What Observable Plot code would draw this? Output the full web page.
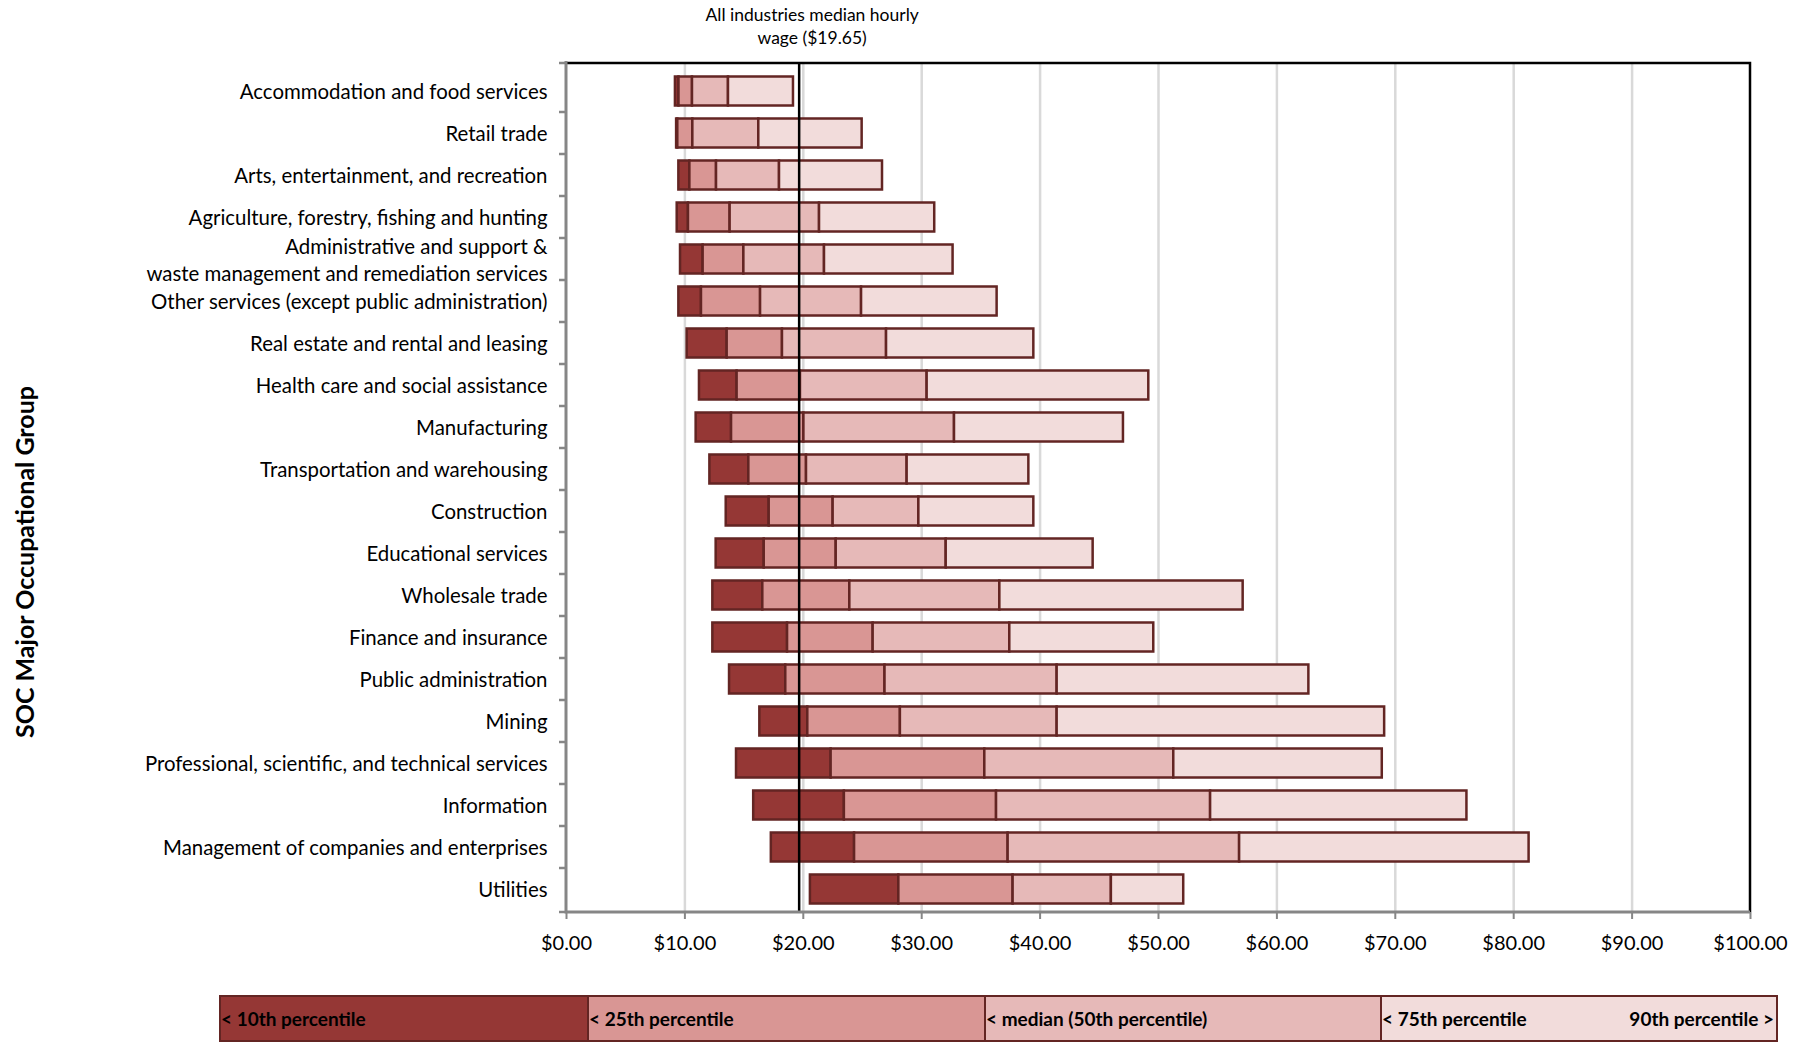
<!DOCTYPE html>
<html><head><meta charset="utf-8">
<script src="https://cdn.jsdelivr.net/npm/d3@7"></script>
<script src="https://cdn.jsdelivr.net/npm/@observablehq/plot@0.6"></script>
<style>
body{margin:0;background:#fff;font-family:Lato,"Open Sans",sans-serif;}
#wrap{position:relative;width:1808px;height:1044px;overflow:hidden;background:#fff;}
#chart{position:absolute;left:0;top:0;}
#legend{position:absolute;left:219px;top:995px;width:1559px;height:47px;display:flex;box-sizing:border-box;border:2px solid #632523;}
.cell{box-sizing:border-box;height:100%;display:flex;align-items:center;justify-content:space-between;font-weight:bold;font-size:19px;color:#000;padding:0 2px 0 0;white-space:nowrap;}
</style></head><body>
<div id="wrap"><div id="chart"></div><div id="legend"></div></div>
<script>
const industries = [
  "Accommodation and food services",
  "Retail trade",
  "Arts, entertainment, and recreation",
  "Agriculture, forestry, fishing and hunting",
  "Administrative and support &\nwaste management and remediation services",
  "Other services (except public administration)",
  "Real estate and rental and leasing",
  "Health care and social assistance",
  "Manufacturing",
  "Transportation and warehousing",
  "Construction",
  "Educational services",
  "Wholesale trade",
  "Finance and insurance",
  "Public administration",
  "Mining",
  "Professional, scientific, and technical services",
  "Information",
  "Management of companies and enterprises",
  "Utilities"
];
const p10 = [9.2, 9.3, 9.49, 9.35, 9.63, 9.49, 10.19, 11.23, 10.95, 12.11, 13.49, 12.64, 12.36, 12.36, 13.77, 16.33, 14.36, 15.81, 17.3, 20.6];
const p25 = [9.5, 9.4, 10.42, 10.3, 11.54, 11.4, 13.57, 14.41, 13.94, 15.4, 17.12, 16.7, 16.58, 18.67, 18.52, 20.38, 22.35, 23.47, 24.33, 28.07];
const p50 = [10.64, 10.67, 12.67, 13.82, 14.98, 16.39, 18.24, 19.76, 20.05, 20.27, 22.52, 22.78, 23.93, 25.9, 26.9, 28.2, 35.33, 36.32, 37.3, 37.72];
const p75 = [13.68, 16.24, 17.99, 21.37, 21.79, 24.92, 27.03, 30.46, 32.77, 28.77, 29.76, 32.07, 36.6, 37.44, 41.44, 41.44, 51.29, 54.4, 56.85, 46.02];
const p90 = [19.17, 24.97, 26.69, 31.1, 32.65, 36.37, 39.47, 49.18, 47.04, 39.05, 39.47, 44.48, 57.15, 49.6, 62.7, 69.1, 68.9, 76.05, 81.3, 52.13];

const medianWage = 19.65;
const medianLabel = "All industries median hourly\nwage ($19.65)";
const yTitle = "SOC Major Occupational Group";
const xTicks = [0, 10, 20, 30, 40, 50, 60, 70, 80, 90, 100];
const xTickLabels = ["$0.00", "$10.00", "$20.00", "$30.00", "$40.00", "$50.00", "$60.00", "$70.00", "$80.00", "$90.00", "$100.00"];
const gridTicks = [10, 20, 30, 40, 50, 60, 70, 80, 90];
const segments = ["10th–25th", "25th–50th", "50th–75th", "75th–90th"];
const segmentColors = ["#953735", "#D99694", "#E6B9B8", "#F2DCDB"];
const legendLabels = ["< 10th percentile", "< 25th percentile", "< median (50th percentile)", "< 75th percentile"];
const legendEndLabel = "90th percentile >";

const bounds = [p10, p25, p50, p75, p90];
const rows = [];
industries.forEach((ind, i) => {
  segments.forEach((s, k) => {
    rows.push({industry: ind, segment: s, x1: bounds[k][i], x2: bounds[k + 1][i]});
  });
});

const frameLines = (index, scales, values, dims) => {
  const x0 = dims.marginLeft, x1 = dims.width - dims.marginRight;
  const y0 = dims.marginTop, y1 = dims.height - dims.marginBottom;
  const g = d3.create("svg:g");
  g.append("path").attr("d", `M${x0},${y0}H${x1}V${y1}`).attr("fill", "none")
    .attr("stroke", "#000").attr("stroke-width", 2.5);
  const y = scales.y;
  const pos = industries.map(d => y(d));
  const step = pos[1] - pos[0];
  const isStart = pos[0] < y0 + step / 4;
  const b = [y0];
  for (let k = 1; k < pos.length; k++) b.push(isStart ? pos[k] : pos[k] - step / 2);
  b.push(y1);
  b.forEach(v => {
    g.append("line").attr("x1", x0 - 7).attr("x2", x0).attr("y1", v).attr("y2", v)
      .attr("stroke", "#868686").attr("stroke-width", 2.5);
  });
  g.append("path").attr("d", `M${x0},${y0 - 2}V${y1}H${x1}`).attr("fill", "none")
    .attr("stroke", "#868686").attr("stroke-width", 3);
  return g.node();
};

const chart = Plot.plot({
  width: 1808,
  height: 975,
  marginLeft: 566,
  marginRight: 58,
  marginTop: 63,
  marginBottom: 63,
  style: {fontFamily: "Lato, 'Open Sans', sans-serif", fontSize: "20px", background: "white", color: "black"},
  x: {domain: [0, 100]},
  y: {domain: industries, padding: 0, range: [64, 915]},
  color: {domain: segments, range: segmentColors},
  marks: [
    Plot.ruleX(gridTicks, {stroke: "#D9D9D9", strokeWidth: 2.5}),
    Plot.barX(rows, {y: "industry", x1: "x1", x2: "x2", fill: "segment", stroke: "#632523", strokeWidth: 2.5, insetTop: 6.5, insetBottom: 6.5}),
    Plot.ruleX([medianWage], {stroke: "#000", strokeWidth: 2.5}),
    frameLines,
    Plot.axisX({ticks: xTicks, tickFormat: (d, i) => xTickLabels[xTicks.indexOf(d)], tickSize: 7, tickPadding: 16, stroke: "#868686", strokeWidth: 2, fill: "#000", fontSize: 20, label: null}),
    Plot.axisY({tickSize: 0, tickPadding: 19, fill: "#000", fontSize: 20.4, lineHeight: 1.35, label: null, dy: -1}),
    Plot.text([medianLabel], {x: medianWage, frameAnchor: "top", lineAnchor: "top", dy: -59, dx: 13, fontSize: 17.5, lineHeight: 1.32, fill: "#000"}),
    Plot.text([yTitle], {frameAnchor: "left", textAnchor: "middle", dx: -541, dy: 74, rotate: -90, fontSize: 25, fontWeight: "bold", fill: "#000"})
  ]
});
document.getElementById("chart").append(chart);

const legend = document.getElementById("legend");
const flexes = [368, 397, 396, 398];
legendLabels.forEach((lab, k) => {
  const c = document.createElement("div");
  c.className = "cell";
  c.style.background = segmentColors[k];
  c.style.flex = `0 0 ${flexes[k] - (k === 0 ? 2 : 0) - (k === 3 ? 2 : 0)}px`;
  if (k > 0) c.style.borderLeft = "2px solid #632523";
  const a = document.createElement("span");
  a.textContent = lab;
  c.append(a);
  if (k === legendLabels.length - 1) {
    const e = document.createElement("span");
    e.textContent = legendEndLabel;
    c.append(e);
  }
  legend.append(c);
});
</script>
</body></html>
